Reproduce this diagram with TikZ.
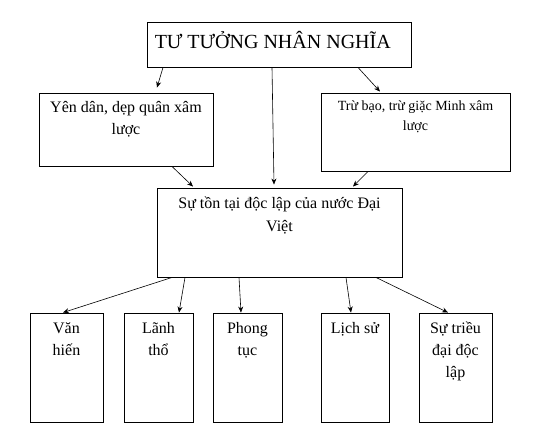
\documentclass[tikz,border=0pt]{standalone}
\usepackage{fontspec}
\setmainfont{Liberation Serif}
\usetikzlibrary{arrows.meta}

\begin{document}
\begin{tikzpicture}[x=1pt,y=-1pt,
  box/.style={draw,line width=0.9pt,inner sep=0pt},
  lbl/.style={anchor=base,align=center,inner sep=0pt},
  arr/.style={-{Stealth[length=6pt,width=5pt]},line width=0.6pt}]
\useasboundingbox (0,0) rectangle (555,437);

% top row
\node[box,minimum width=264pt,minimum height=45pt] (idea) at (279,44.5) {};
\node[anchor=base west,inner sep=0pt,font=\fontsize{20}{24}\selectfont] (ideatext) at ([xshift=8pt,yshift=-27pt]idea.north west) {TƯ TƯỞNG NHÂN NGHĨA};

% second row (base = last line)
\node[box,minimum width=174pt,minimum height=73pt] (dan) at (126,129.5) {};
\node[lbl,font=\fontsize{16}{22}\selectfont] (dantext) at ([yshift=-42pt]dan.north) {Yên dân, dẹp quân xâm\\lược};

\node[box,minimum width=189pt,minimum height=78pt] (tru) at (415.5,132) {};
\node[lbl,font=\fontsize{14}{20}\selectfont] (trutext) at ([yshift=-38pt]tru.north) {Trừ bạo, trừ giặc Minh xâm\\lược};

% middle
\node[box,minimum width=245pt,minimum height=89pt] (tontai) at (279.5,232.5) {};
\node[lbl,font=\fontsize{16}{23}\selectfont] (tontaitext) at ([yshift=-44pt]tontai.north) {Sự tồn tại độc lập của nước Đại\\Việt};

\draw[arr] ([xshift=-116pt]idea.south) -- ([xshift=31pt,yshift=5pt]dan.north);
\draw[arr] ([xshift=-7pt]idea.south) -- ([xshift=-5.5pt,yshift=3pt]tontai.north);
\draw[arr] ([xshift=79pt]idea.south) -- ([xshift=-35.5pt,yshift=1pt]tru.north);
\draw[arr] ([xshift=46pt]dan.south) -- ([xshift=-86.5pt,yshift=1pt]tontai.north);
\draw[arr] ([xshift=-47.5pt]tru.south) -- ([xshift=73.5pt,yshift=1pt]tontai.north);

% bottom row
\foreach \Name/\X/\W/\S/\E/\B/\Text in {vanhien/66.5/73/-107.5/-3.5/43/{Văn\\hiến},
    lanhtho/158.5/69/-94.5/20.5/43/{Lãnh\\thổ},
    phongtuc/247.5/69/-40.5/-6.5/43/{Phong\\tục},
    lichsu/355/68/66.5/-4/21/{Lịch sử},
    trieudai/455.5/73/96.5/-7.5/65/{Sự triều\\đại độc\\lập}}{
  \node[box,minimum width=\W pt,minimum height=109pt] (\Name) at (\X,367.5) {};
  \node[lbl,font=\fontsize{16}{22}\selectfont] (\Name text) at ([yshift=-\B pt]\Name.north) {\Text};
  \draw[arr] ([xshift=\S pt]tontai.south) -- ([xshift=\E pt]\Name.north);
}
\end{tikzpicture}
\end{document}
